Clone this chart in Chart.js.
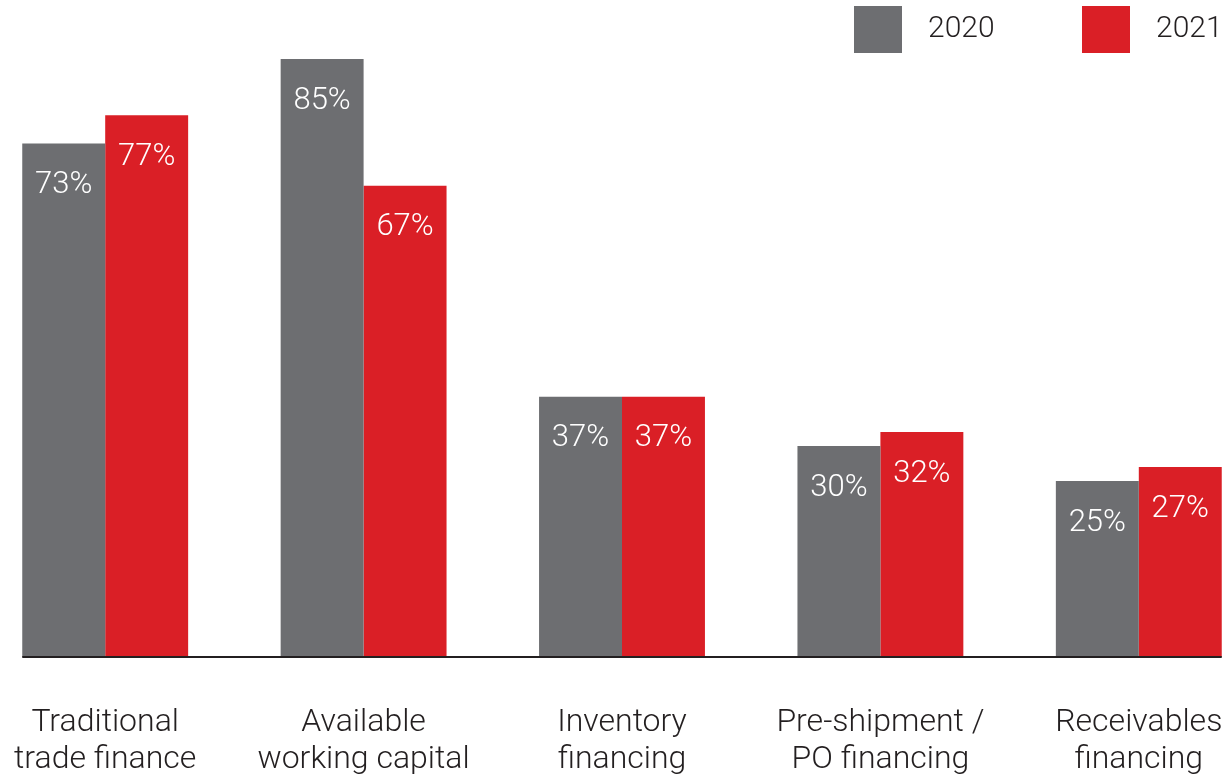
<!DOCTYPE html>
<html>
<head>
<meta charset="utf-8">
<script src="https://cdn.jsdelivr.net/npm/chart.js@4"></script>
<style>
  html, body { margin:0; padding:0; background:#fff; overflow:hidden; width:1229px; height:776px; }
  #wrap { position:absolute; left:-24px; top:0; width:1292px; height:776px; }
</style>
</head>
<body>
<div id="wrap"><canvas id="c"></canvas></div>
<script>
const categories = [
  ["Traditional", "trade finance"],
  ["Available", "working capital"],
  ["Inventory", "financing"],
  ["Pre-shipment /", "PO financing"],
  ["Receivables", "financing"]
];
const seriesLabels = ["2020", "2021"];
const values2020 = [73, 85, 37, 30, 25];
const values2021 = [77, 67, 37, 32, 27];

const GRAY = "#6d6e71";
const RED = "#da1f26";
const TEXT = "#231f20";
const FONT = "Roboto, 'Liberation Sans', sans-serif";
const SHIFT = 24; // wrapper shift

const valueLabels = {
  id: "valueLabels",
  afterDatasetsDraw(chart) {
    const ctx = chart.ctx;
    ctx.save();
    ctx.fillStyle = "#ffffff";
    ctx.font = "300 31px " + FONT;
    ctx.textAlign = "center";
    ctx.textBaseline = "middle";
    chart.data.datasets.forEach((ds, i) => {
      chart.getDatasetMeta(i).data.forEach((bar, j) => {
        ctx.fillText(ds.data[j] + "%", bar.x, bar.y + 42);
      });
    });
    ctx.restore();
  }
};

const baseline = {
  id: "baseline",
  afterDatasetsDraw(chart) {
    const m0 = chart.getDatasetMeta(0).data;
    const m1 = chart.getDatasetMeta(chart.data.datasets.length - 1).data;
    const first = m0[0], last = m1[m1.length - 1];
    const x0 = first.x - first.width / 2;
    const x1 = last.x + last.width / 2;
    const y = chart.scales.y.getPixelForValue(0);
    const ctx = chart.ctx;
    ctx.save();
    ctx.strokeStyle = "#231f20";
    ctx.lineWidth = 2;
    ctx.beginPath();
    ctx.moveTo(x0, y);
    ctx.lineTo(x1, y);
    ctx.stroke();
    ctx.restore();
  }
};

const customLegend = {
  id: "customLegend",
  afterDraw(chart) {
    const ctx = chart.ctx;
    const items = [
      { box: 854, text: 928 },
      { box: 1082, text: 1156 }
    ];
    ctx.save();
    ctx.font = "300 30px " + FONT;
    ctx.textBaseline = "middle";
    ctx.textAlign = "left";
    chart.data.datasets.forEach((ds, i) => {
      const it = items[i];
      ctx.fillStyle = ds.backgroundColor;
      ctx.fillRect(it.box + SHIFT, 6, 48, 47);
      ctx.fillStyle = TEXT;
      ctx.fillText(ds.label, it.text + SHIFT, 29);
    });
    ctx.restore();
  }
};

new Chart(document.getElementById("c"), {
  type: "bar",
  data: {
    labels: categories,
    datasets: [
      { label: seriesLabels[0], data: values2020, backgroundColor: GRAY },
      { label: seriesLabels[1], data: values2021, backgroundColor: RED }
    ]
  },
  options: {
    responsive: true,
    maintainAspectRatio: false,
    animation: false,
    layout: { padding: 0 },
    categoryPercentage: 0.642,
    barPercentage: 1.0,
    plugins: {
      legend: { display: false },
      tooltip: { enabled: false }
    },
    scales: {
      x: {
        grid: { display: false, drawTicks: false },
        border: { display: false },
        afterFit(scale) {
          scale.height = 119;
          scale.paddingLeft = 0;
          scale.paddingRight = 0;
        },
        ticks: {
          padding: 47,
          color: TEXT,
          maxRotation: 0,
          autoSkip: false,
          font: { family: FONT, size: 32, weight: "300", lineHeight: 1.16 }
        }
      },
      y: {
        display: false,
        min: 0,
        max: 93.39
      }
    }
  },
  plugins: [valueLabels, baseline, customLegend]
});
</script>
</body>
</html>
